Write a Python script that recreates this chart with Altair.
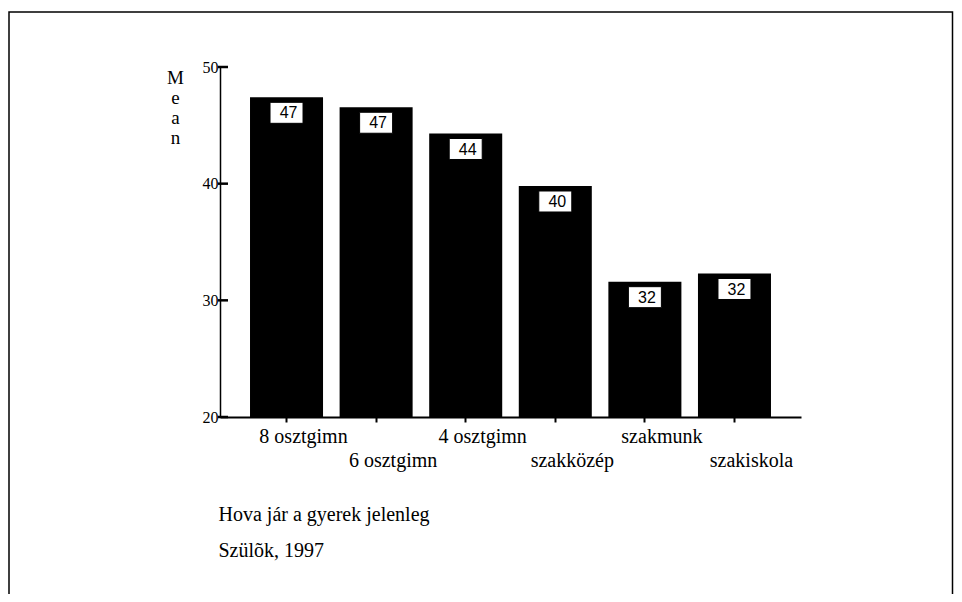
import altair as alt
import pandas as pd

categories = ["8 osztgimn", "6 osztgimn", "4 osztgimn", "szakközép", "szakmunk", "szakiskola"]
means = [47.4, 46.55, 44.3, 39.8, 31.6, 32.3]
y_ticks = [20, 30, 40, 50]
y_title = ["M", "e", "a", "n"]
x_title = ["Hova jár a gyerek jelenleg", "Szülõk, 1997"]

df = pd.DataFrame({"cat": categories, "mean": means})
ticks_df = pd.DataFrame({"t": y_ticks})
frame_df = pd.DataFrame({"f": [0]})

lower_row = categories[1::2]
lower_test = "indexof([" + ",".join("'" + c + "'" for c in lower_row) + "], datum.value) >= 0"

SERIF = "Liberation Serif"

x_enc = alt.X(
    "cat:N",
    sort=categories,
    scale=alt.Scale(paddingInner=0.185, paddingOuter=0.335),
    axis=alt.Axis(
        title=x_title,
        titleFont=SERIF,
        titleFontSize=20,
        titleFontWeight="normal",
        titleColor="black",
        titleAlign="left",
        titleBaseline="alphabetic",
        titleAnchor="start",
        titleX=-2,
        titleY=103,
        titleLineHeight=36,
        labelFont=SERIF,
        labelFontSize=20,
        labelColor="black",
        labelAngle=0,
        labelOffset=17,
        labelOverlap=False,
        labelBound=False,
        labelFlush=False,
        labelPadding={"condition": {"test": lower_test, "value": 28}, "value": 4},
        domainColor="black",
        domainWidth=2,
        tickColor="black",
        tickWidth=2,
        tickSize=5,
    ),
)

y_scale = alt.Scale(domain=[20, 50], zero=False, nice=False)

y_enc = alt.Y(
    "mean:Q",
    scale=y_scale,
    axis=alt.Axis(
        values=y_ticks,
        title=y_title,
        titleFont=SERIF,
        titleFontSize=19,
        titleFontWeight="normal",
        titleColor="black",
        titleAngle=0,
        titleAlign="center",
        titleBaseline="top",
        titleX=-45,
        titleY=1,
        titleLineHeight=20,
        labelFont=SERIF,
        labelFontSize=16,
        labelColor="black",
        labelPadding=2,
        ticks=False,
        domainColor="black",
        domainWidth=1.5,
        grid=False,
    ),
)

bars = alt.Chart(df).mark_bar(color="black").encode(
    x=x_enc,
    y=y_enc,
    y2=alt.datum(y_ticks[0]),
)

yticks = alt.Chart(ticks_df).mark_rule(color="black", strokeWidth=2.5).encode(
    y=alt.Y("t:Q", scale=y_scale),
    x=alt.value(-2),
    x2=alt.value(8),
)

box_path = "M-1,-0.636L1,-0.636L1,0.636L-1,0.636Z"
boxes = alt.Chart(df).mark_point(
    shape=box_path, size=1089, filled=True, fill="white", stroke="black",
    strokeWidth=1, opacity=1, yOffset=15.5,
).encode(
    x=alt.X("cat:N", sort=categories),
    y=alt.Y("mean:Q", scale=y_scale),
)

labels = alt.Chart(df).mark_text(
    font="Liberation Sans", fontSize=16, color="black", baseline="middle",
    align="center", yOffset=16, dx=2,
).encode(
    x=alt.X("cat:N", sort=categories),
    y=alt.Y("mean:Q", scale=y_scale),
    text=alt.Text("mean:Q", format=".0f"),
)

frame = alt.Chart(frame_df).mark_rect(
    fill=None, stroke="black", strokeWidth=1.5
).encode(
    x=alt.value(-211),
    x2=alt.value(732.5),
    y=alt.value(-55),
    y2=alt.value(600),
)

chart = alt.layer(frame, bars, yticks, boxes, labels).properties(
    width=581,
    height=350,
    autosize=alt.AutoSizeParams(type="none"),
    padding={"left": 212, "top": 59, "right": 153, "bottom": 177},
    background="white",
).configure_view(stroke=None)

chart.save("out.html", embed_options={"renderer": "svg", "actions": False})
